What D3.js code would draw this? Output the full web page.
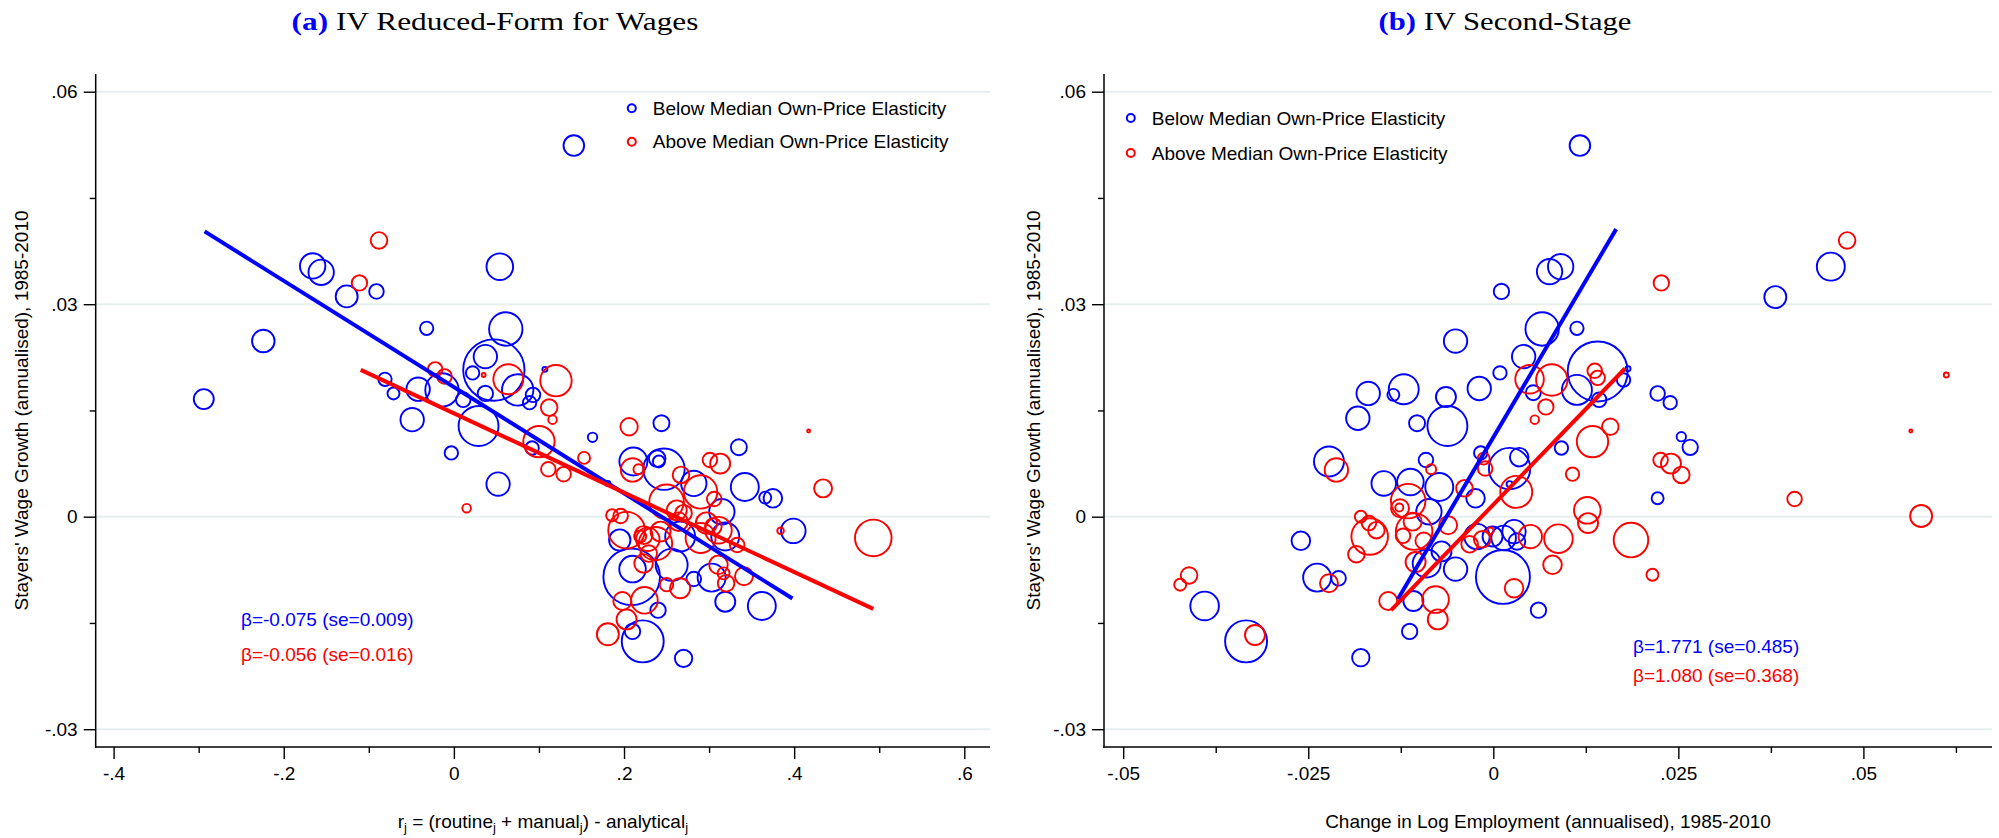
<!DOCTYPE html>
<html>
<head>
<meta charset="utf-8">
<script src="https://cdn.jsdelivr.net/npm/d3@7"></script>
<style>
  body { margin: 0; background: #fff; }
  svg { display: block; }
</style>
</head>
<body>
<svg id="chart" width="1999" height="838"></svg>
<script>
// ---------- data ----------
// Each occupation: [x value, stayers' annualised wage growth 1985-2010, employment weight]

// Panel (a): x = r_j = (routine_j + manual_j) - analytical_j
const reducedBelow = [
  [0.141, 0.0524, 3.51], [-0.166, 0.0354, 5.33], [-0.156, 0.0345, 5.33], [-0.091, 0.0318, 1.76],
  [-0.126, 0.0311, 4.00], [0.054, 0.0353, 5.85], [-0.224, 0.0248, 4.22], [-0.032, 0.0266, 1.48],
  [0.061, 0.0265, 9.22], [0.047, 0.0207, 31.16], [0.037, 0.0226, 4.53], [0.022, 0.0203, 1.48],
  [0.107, 0.0208, 0.21], [-0.081, 0.0194, 1.48], [-0.042, 0.0180, 4.53], [-0.071, 0.0174, 1.19],
  [-0.014, 0.0179, 9.22], [0.011, 0.0165, 1.76], [0.037, 0.0174, 1.96], [0.075, 0.0179, 8.15],
  [0.093, 0.0172, 1.76], [0.089, 0.0161, 1.48], [0.029, 0.0128, 13.22], [-0.049, 0.0137, 4.53],
  [-0.294, 0.0166, 3.31], [0.092, 0.0097, 1.48], [0.163, 0.0112, 0.73], [-0.003, 0.0090, 1.48],
  [0.052, 0.0046, 4.53], [0.181, 0.0047, 0.21], [0.244, 0.0132, 2.12], [0.335, 0.0098, 2.12],
  [0.211, 0.0078, 6.48], [0.239, 0.0082, 2.28], [0.241, 0.0078, 1.19], [0.247, 0.0067, 14.16],
  [0.282, 0.0047, 5.33], [0.342, 0.0042, 6.48], [0.366, 0.0027, 1.19], [0.375, 0.0026, 2.86],
  [0.315, 0.0007, 5.33], [0.195, -0.0033, 3.78], [0.266, -0.0028, 7.44], [0.319, -0.0028, 6.48],
  [0.399, -0.0020, 5.00], [0.209, -0.0085, 26.5], [0.210, -0.0074, 5.85], [0.256, -0.0068, 8.46],
  [0.282, -0.0088, 1.76], [0.303, -0.0086, 6.48], [0.319, -0.0120, 3.31], [0.362, -0.0126, 6.48],
  [0.240, -0.0132, 1.96], [0.210, -0.0162, 1.96], [0.222, -0.0176, 14.58], [0.270, -0.0200, 2.50]
];
const reducedAbove = [
  [-0.088, 0.0390, 2.28], [-0.111, 0.0330, 1.96], [0.035, 0.0200, 0.13], [0.064, 0.0194, 7.44],
  [0.120, 0.0192, 8.15], [-0.022, 0.0208, 1.76], [-0.011, 0.0198, 1.76], [0.100, 0.0106, 8.15],
  [0.112, 0.0154, 2.28], [0.116, 0.0137, 0.61], [0.153, 0.0083, 1.19], [0.111, 0.0067, 1.76],
  [0.129, 0.0060, 1.76], [0.015, 0.0012, 0.61], [0.206, 0.0127, 2.50], [0.210, 0.0066, 4.53],
  [0.217, 0.0067, 0.83], [0.301, 0.0080, 1.76], [0.313, 0.0075, 3.31], [0.267, 0.0059, 2.28],
  [0.290, 0.0035, 9.22], [0.250, 0.0021, 9.89], [0.434, 0.0040, 2.68], [0.417, 0.0121, 0.07],
  [0.306, 0.0025, 1.76], [0.262, 0.0009, 3.31], [0.270, 0.0005, 2.28], [0.186, 0.0002, 1.19],
  [0.196, 0.0001, 1.76], [0.203, -0.0019, 11.07], [0.223, -0.0026, 2.68], [0.219, -0.0028, 1.19],
  [0.228, -0.0032, 4.53], [0.237, -0.0038, 9.22], [0.243, -0.0021, 3.31], [0.264, -0.0007, 2.86],
  [0.297, -0.0009, 3.78], [0.311, -0.0019, 5.85], [0.290, -0.0030, 7.44], [0.305, -0.0014, 2.28],
  [0.333, -0.0040, 1.76], [0.384, -0.0020, 0.36], [0.493, -0.0030, 11.07], [0.223, -0.0066, 2.86],
  [0.229, -0.0052, 2.28], [0.250, -0.0096, 1.48], [0.266, -0.0101, 3.31], [0.311, -0.0068, 2.86],
  [0.317, -0.0080, 1.19], [0.320, -0.0094, 2.28], [0.341, -0.0084, 2.68], [0.198, -0.0119, 2.68],
  [0.224, -0.0118, 5.85], [0.203, -0.0145, 3.31], [0.181, -0.0166, 4.00]
];

// Panel (b): x = change in log employment (annualised), 1985-2010
const secondBelow = [
  [0.0117, 0.0524, 3.51], [0.0076, 0.0346, 5.33], [0.0091, 0.0353, 5.33], [0.0011, 0.0318, 1.96],
  [0.0066, 0.0265, 9.22], [0.0113, 0.0266, 1.48], [-0.0051, 0.0248, 4.53], [0.0041, 0.0226, 4.53],
  [0.0009, 0.0203, 1.48], [0.0141, 0.0205, 29.75], [0.0182, 0.0209, 0.21], [0.0176, 0.0193, 1.48],
  [-0.0169, 0.0174, 4.53], [-0.0121, 0.0180, 7.44], [-0.0135, 0.0172, 1.19], [-0.0064, 0.0169, 3.31],
  [-0.0019, 0.0181, 4.53], [0.0054, 0.0175, 1.86], [0.0113, 0.0179, 7.44], [0.0222, 0.0174, 1.76],
  [0.0239, 0.0161, 1.48], [0.0143, 0.0165, 1.76], [-0.0183, 0.0139, 4.53], [-0.0103, 0.0132, 2.12],
  [-0.0062, 0.0128, 13.22], [0.0092, 0.0097, 1.48], [0.0254, 0.0113, 0.73], [0.0266, 0.0098, 1.96],
  [0.0222, 0.0026, 1.19], [-0.0222, 0.0078, 7.44], [-0.0091, 0.0080, 1.76], [-0.0017, 0.0090, 1.48],
  [0.0022, 0.0068, 14.16], [0.0035, 0.0084, 2.86], [-0.0148, 0.0047, 5.00], [-0.0112, 0.0049, 5.85],
  [-0.0073, 0.0042, 6.48], [-0.0024, 0.0026, 2.86], [0.0022, 0.0046, 0.30], [-0.0087, 0.0007, 5.33],
  [-0.0260, -0.0034, 2.86], [0.0028, -0.0021, 4.53], [0.0014, -0.0030, 5.00], [-0.0001, -0.0028, 3.31],
  [-0.0022, -0.0028, 5.33], [0.0032, -0.0035, 2.28], [-0.0070, -0.0049, 3.31], [-0.0090, -0.0066, 6.48],
  [-0.0051, -0.0074, 4.53], [0.0013, -0.0085, 24.1], [0.0061, -0.0132, 1.96], [-0.0390, -0.0126, 6.76],
  [-0.0238, -0.0086, 6.48], [-0.0209, -0.0087, 1.76], [-0.0334, -0.0176, 14.58], [-0.0108, -0.0119, 3.31],
  [-0.0113, -0.0162, 1.96], [-0.0179, -0.0199, 2.50], [0.0456, 0.0353, 6.48], [0.0381, 0.0310, 4.00]
];
const secondAbove = [
  [0.0227, 0.0330, 1.96], [0.0049, 0.0194, 6.76], [0.0079, 0.0193, 8.15], [0.0137, 0.0206, 1.76],
  [0.0141, 0.0196, 1.76], [0.0071, 0.0155, 1.96], [0.0056, 0.0137, 0.61], [0.0158, 0.0127, 2.28],
  [0.0134, 0.0106, 8.15], [0.0226, 0.0080, 1.76], [0.0240, 0.0075, 3.31], [0.0254, 0.0059, 2.28],
  [0.0107, 0.0060, 1.48], [-0.0212, 0.0066, 4.53], [-0.0084, 0.0067, 0.83], [-0.0013, 0.0082, 1.19],
  [-0.0011, 0.0068, 1.76], [-0.0039, 0.0040, 2.28], [0.0031, 0.0035, 8.46], [-0.0115, 0.0022, 9.89],
  [-0.0126, 0.0012, 2.68], [-0.0127, 0.0013, 0.53], [0.0127, 0.0009, 5.85], [0.0128, -0.0009, 3.31],
  [-0.0179, 0.0000, 1.19], [-0.0168, -0.0009, 1.76], [-0.0158, -0.0019, 2.28], [-0.0167, -0.0028, 11.07],
  [-0.0109, -0.0007, 2.68], [-0.0107, -0.0021, 11.07], [-0.0094, -0.0034, 2.28], [-0.0122, -0.0027, 1.76],
  [-0.0061, -0.0012, 2.68], [0.0186, -0.0033, 9.89], [0.0088, -0.0031, 6.76], [0.0050, -0.0028, 4.53],
  [-0.0015, -0.0032, 2.28], [-0.0004, -0.0020, 0.36], [-0.0032, -0.0039, 2.28], [-0.0185, -0.0053, 2.28],
  [-0.0105, -0.0064, 3.31], [0.0028, -0.0101, 2.86], [0.0080, -0.0068, 2.86], [0.0215, -0.0082, 1.19],
  [-0.0411, -0.0083, 2.28], [-0.0423, -0.0096, 1.19], [-0.0222, -0.0094, 2.68], [-0.0322, -0.0167, 3.31],
  [-0.0142, -0.0119, 2.68], [-0.0078, -0.0117, 5.85], [-0.0075, -0.0145, 3.31], [0.0478, 0.0390, 2.28],
  [0.0612, 0.0200, 0.21], [0.0564, 0.0121, 0.07], [0.0407, 0.0025, 1.76], [0.0578, 0.0001, 4.00]
];

// Fitted lines: [below median, above median]
const slopesA = [-0.075, -0.056];
const seA = [0.009, 0.016];
const interceptsA = [0.0183, 0.0146];
const fitRangeA = [[-0.293, 0.398], [-0.1095, 0.493]];

const slopesB = [1.771, 1.080];
const seB = [0.485, 0.368];
const interceptsB = [0.0112, 0.0017];
const fitRangeB = [[-0.0129, 0.0166], [-0.0138, 0.0178]];

// Axes
const yTicks = [-0.03, 0, 0.03, 0.06];
const yTickLabels = ["-.03", "0", ".03", ".06"];
const yMinorTicks = [-0.015, 0.015, 0.045];
const xTicksA = [-0.4, -0.2, 0, 0.2, 0.4, 0.6];
const xTickLabelsA = ["-.4", "-.2", "0", ".2", ".4", ".6"];
const xMinorTicksA = [-0.3, -0.1, 0.1, 0.3, 0.5];
const xTicksB = [-0.05, -0.025, 0, 0.025, 0.05];
const xTickLabelsB = ["-.05", "-.025", "0", ".025", ".05"];
const xMinorTicksB = [-0.0375, -0.0125, 0.0125, 0.0375, 0.0625];

const seriesNames = ["Below Median Own-Price Elasticity", "Above Median Own-Price Elasticity"];
const yTitle = "Stayers' Wage Growth (annualised), 1985-2010";

// ---------- drawing ----------
const svg = d3.select("#chart");
const SANS = "'Liberation Sans', Arial, Helvetica, sans-serif";
const SERIF = "'Liberation Serif', 'Times New Roman', serif";
const COLORS = ["#0000ff", "#ff0000"];
const GRID = "#e7eef0";
// plain hyphen-minus for negative coefficients
const fmt3 = d3.formatLocale({ decimal: ".", thousands: ",", grouping: [3], currency: ["", ""], minus: "-" }).format(".3f");

const y = d3.scaleLinear().domain([-0.03, 0.06]).range([729.2, 91.7]);
const radius = d3.scaleSqrt().domain([0, 30]).range([0, 30.1]);

const panels = [
  {
    letter: "(a)", title: "IV Reduced-Form for Wages", titleX: 495, titleW: 407,
    x: d3.scaleLinear().domain([-0.4, 0.6]).range([113.6, 964.3]),
    left: 95.7, right: 990, top: 74, bottom: 747,
    xTicks: xTicksA, xLabels: xTickLabelsA, xMinor: xMinorTicksA,
    series: [reducedBelow, reducedAbove],
    slopes: slopesA, se: seA, intercepts: interceptsA, ranges: fitRangeA,
    legendX: 631.8, legendY: [108.3, 141.7],
    betaX: 241, betaY: [625.5, 660.5],
    yTitleX: 28,
    xTitle: "rj"
  },
  {
    letter: "(b)", title: "IV Second-Stage", titleX: 1505, titleW: 253,
    x: d3.scaleLinear().domain([-0.05, 0.05]).range([1123.2, 1863.4]),
    left: 1104, right: 1992, top: 74, bottom: 747,
    xTicks: xTicksB, xLabels: xTickLabelsB, xMinor: xMinorTicksB,
    series: [secondBelow, secondAbove],
    slopes: slopesB, se: seB, intercepts: interceptsB, ranges: fitRangeB,
    legendX: 1130.8, legendY: [118, 153],
    betaX: 1633, betaY: [653, 681.5],
    yTitleX: 1040,
    xTitle: "Change in Log Employment (annualised), 1985-2010"
  }
];

panels.forEach(p => {
  const g = svg.append("g");

  // horizontal grid lines at the labelled y ticks
  g.selectAll("line.grid").data(yTicks).join("line")
    .attr("x1", p.left).attr("x2", p.right)
    .attr("y1", d => y(d)).attr("y2", d => y(d))
    .attr("stroke", GRID).attr("stroke-width", 2);

  // y axis: major + minor ticks
  const yAxis = g.append("g").attr("transform", `translate(${p.left},0)`)
    .call(d3.axisLeft(y).tickValues(yTicks)
      .tickFormat((d, i) => yTickLabels[i]).tickSize(12).tickPadding(6));
  const yMinor = g.append("g").attr("transform", `translate(${p.left},0)`)
    .call(d3.axisLeft(y).tickValues(yMinorTicks).tickFormat("").tickSize(6));

  // x axis: major + minor ticks
  const xAxis = g.append("g").attr("transform", `translate(0,${p.bottom})`)
    .call(d3.axisBottom(p.x).tickValues(p.xTicks)
      .tickFormat((d, i) => p.xLabels[i]).tickSize(12).tickPadding(8));
  const xMinor = g.append("g").attr("transform", `translate(0,${p.bottom})`)
    .call(d3.axisBottom(p.x).tickValues(p.xMinor).tickFormat("").tickSize(6));

  [yAxis, yMinor, xAxis, xMinor].forEach(a => {
    a.select(".domain").remove();
    a.selectAll("line").attr("stroke", "#000").attr("stroke-width", 1.4);
    a.selectAll("text").attr("font-family", SANS).attr("font-size", 19).attr("fill", "#000");
  });

  // axis lines
  g.append("line").attr("x1", p.left).attr("x2", p.left)
    .attr("y1", p.top).attr("y2", p.bottom + 0.75)
    .attr("stroke", "#000").attr("stroke-width", 1.5);
  g.append("line").attr("x1", p.left - 0.75).attr("x2", p.right)
    .attr("y1", p.bottom).attr("y2", p.bottom)
    .attr("stroke", "#000").attr("stroke-width", 1.5);

  // bubbles
  p.series.forEach((rows, si) => {
    g.append("g").selectAll("circle").data(rows).join("circle")
      .attr("cx", d => p.x(d[0]))
      .attr("cy", d => y(d[1]))
      .attr("r", d => Math.max(radius(d[2]), 1))
      .attr("fill", "none")
      .attr("stroke", COLORS[si])
      .attr("stroke-width", 1.9);
  });

  // fitted lines
  const line = d3.line().x(d => p.x(d[0])).y(d => y(d[1]));
  p.slopes.forEach((b, si) => {
    const pts = p.ranges[si].map(xv => [xv, p.intercepts[si] + b * xv]);
    g.append("path").attr("d", line(pts))
      .attr("fill", "none").attr("stroke", COLORS[si])
      .attr("stroke-width", 4).attr("stroke-linecap", "butt");
  });

  // legend
  seriesNames.forEach((name, si) => {
    g.append("circle").attr("cx", p.legendX).attr("cy", p.legendY[si]).attr("r", 4)
      .attr("fill", "none").attr("stroke", COLORS[si]).attr("stroke-width", 2);
    g.append("text").attr("x", p.legendX + 21).attr("y", p.legendY[si]).attr("dy", "0.35em")
      .attr("font-family", SANS).attr("font-size", 19).attr("fill", "#000").text(name);
  });

  // coefficient labels
  p.slopes.forEach((b, si) => {
    g.append("text").attr("x", p.betaX).attr("y", p.betaY[si])
      .attr("font-family", SANS).attr("font-size", 19).attr("fill", COLORS[si])
      .text(`β=${fmt3(b)} (se=${fmt3(p.se[si])})`);
  });

  // y axis title
  const cy = (p.top + p.bottom) / 2;
  g.append("text").attr("transform", `translate(${p.yTitleX},${cy}) rotate(-90)`)
    .attr("text-anchor", "middle").attr("font-family", SANS).attr("font-size", 19)
    .attr("fill", "#000").text(yTitle);

  // x axis title
  const cx = (p.left + p.right) / 2;
  const xt = g.append("text").attr("x", cx).attr("y", 828).attr("text-anchor", "middle")
    .attr("font-family", SANS).attr("font-size", 19).attr("fill", "#000");
  if (p.xTitle === "rj") {
    const parts = [["r", false], ["j", true], [" = (routine", false], ["j", true],
                   [" + manual", false], ["j", true], [") - analytical", false], ["j", true]];
    parts.forEach(([t, sub]) => {
      const ts = xt.append("tspan").text(t);
      if (sub) ts.attr("font-size", 13).attr("baseline-shift", "-30%");
    });
  } else {
    xt.text(p.xTitle);
  }

  // panel title
  const tt = svg.append("text").attr("text-anchor", "middle")
    .attr("font-family", SERIF).attr("font-size", 25).attr("fill", "#000");
  tt.append("tspan").attr("fill", "#0000ff").attr("font-weight", "bold").text(p.letter);
  tt.append("tspan").text(" " + p.title);
  const w = tt.node().getComputedTextLength();
  tt.attr("transform", `translate(${p.titleX},30) scale(${p.titleW / w},1)`);
});
</script>
</body>
</html>
